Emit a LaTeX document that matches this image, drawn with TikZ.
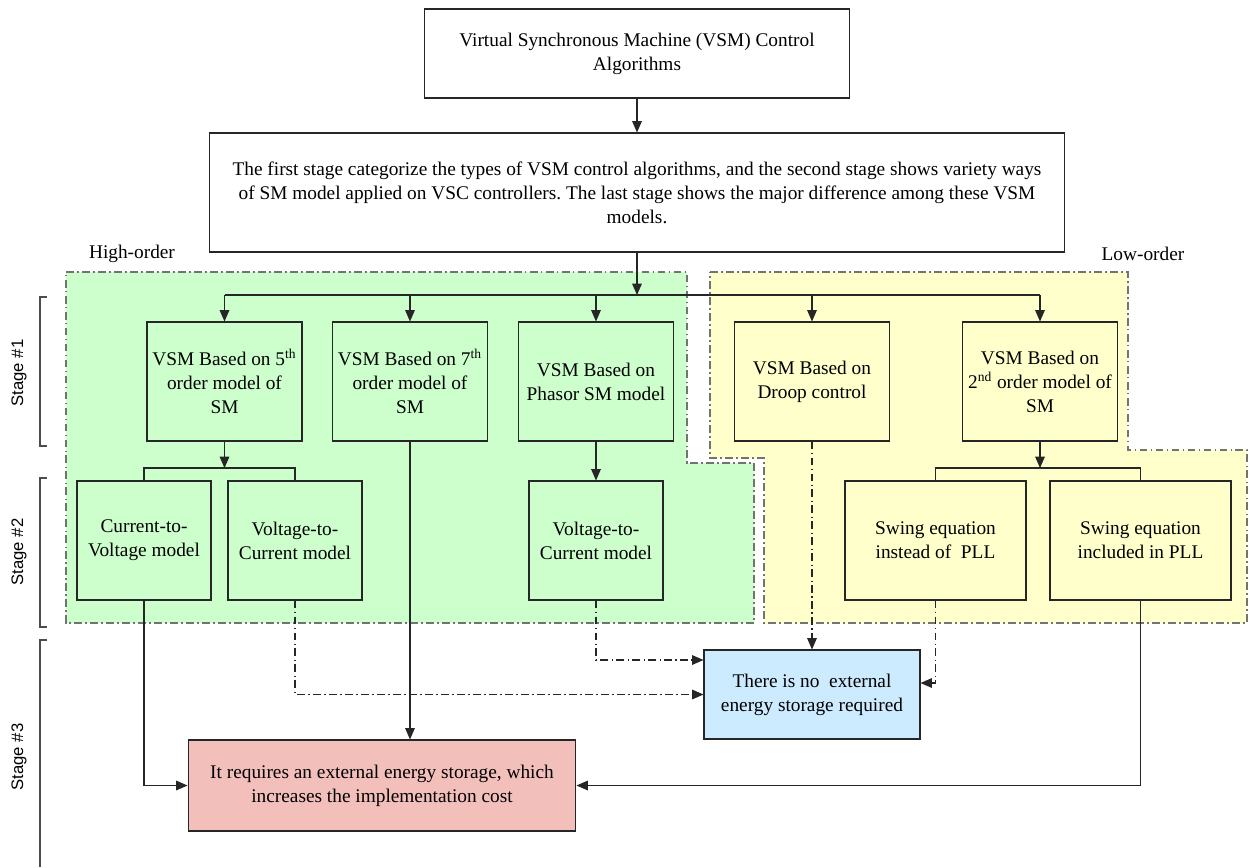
\documentclass[tikz,border=0pt]{standalone}
\usepackage{fontspec}
\setmainfont{Liberation Serif}
\newfontfamily\stagefont{Liberation Sans}
\usetikzlibrary{arrows.meta}
\frenchspacing
\definecolor{hogreen}{HTML}{CCFFCC}
\definecolor{loyellow}{HTML}{FFFFCC}
\definecolor{noblue}{HTML}{CCEBFF}
\definecolor{costred}{HTML}{F2BFBB}
\tikzset{
  blk/.style={draw=black!85, align=center, inner sep=0pt, line width=0.6pt,
    font=\fontsize{11}{13.6}\selectfont},
  sone/.style={blk, minimum width=3.1cm, minimum height=2.38cm},
  stwo/.style={blk, minimum width=2.68cm, minimum height=2.38cm},
  swide/.style={blk, minimum width=3.62cm, minimum height=2.38cm},
  arr/.style={-{Triangle[length=6.5pt,width=5.5pt]}, draw=black!85, line width=0.6pt},
  ln/.style={draw=black!85, line width=0.6pt},
  dd/.style={dash pattern=on 4.5pt off 1.8pt on 1pt off 1.8pt},
  region/.style={draw=black!55, line width=0.8pt, dd},
  stagelbl/.style={rotate=90, font=\stagefont\fontsize{9.5}{11}\selectfont}
}

\begin{document}
\begin{tikzpicture}[x=0.02cm,y=-0.02cm]
\useasboundingbox (0,0) rectangle (1249,867);

\fill[hogreen] (66,272) -- (687,272) -- (687,463) -- (754,463) -- (754,623) -- (66,623) -- cycle;
\fill[loyellow] (710,272) -- (1128,272) -- (1128,450) -- (1247,450) -- (1247,623) -- (764,623) -- (764,458) -- (710,458) -- cycle;
\draw[region] (66,272) -- (687,272) -- (687,463) -- (754,463) -- (754,623) -- (66,623) -- cycle;
\draw[region] (710,272) -- (1128,272) -- (1128,450) -- (1247,450) -- (1247,623) -- (764,623) -- (764,458) -- (710,458) -- cycle;
\node (high) [font=\fontsize{11}{13.6}\selectfont] at (132,254) {High-order};
\node (low) [font=\fontsize{11}{13.6}\selectfont] at (1143,254) {Low-order};

\draw[line width=0.8pt, black!70] (47,297) -- (40,297) -- (40,446) -- (47,446);
\draw[line width=0.8pt, black!70] (47,478) -- (40,478) -- (40,627) -- (47,627);
\draw[line width=0.8pt, black!70] (47,640) -- (40,640) -- (40,867);
\node (stage1) [stagelbl] at (19,373) {Stage \#1};
\node (stage2) [stagelbl] at (19,552) {Stage \#2};
\node (stage3) [stagelbl] at (19,757) {Stage \#3};

\node (top) [blk, fill=white, minimum width=8.52cm, minimum height=1.78cm] at (637,53.5)
  {Virtual Synchronous Machine (VSM) Control\\Algorithms};
\node (desc) [blk, fill=white, minimum width=17.12cm, minimum height=2.38cm] at (637,192.5)
  {The first stage categorize the types of VSM control algorithms, and the second stage shows variety ways\\
   of SM model applied on VSC controllers. The last stage shows the major difference among these VSM\\models.};

\node (fifth) [sone, fill=hogreen] at (224.5,381.5) {VSM Based on 5\textsuperscript{th}\\order model of\\SM};
\node (seventh) [sone, fill=hogreen] at (410,381.5) {VSM Based on 7\textsuperscript{th}\\order model of\\SM};
\node (phasor) [sone, fill=hogreen] at (596,381.5) {VSM Based on\\Phasor SM model};
\node (droop) [sone, fill=loyellow] at (812,381.5) {VSM Based on\\Droop control};
\node (second) [sone, fill=loyellow] at (1040,381.5) {VSM Based on\\2\textsuperscript{nd} order model of\\SM};

\node (cv) [stwo, fill=hogreen] at (144,540.5) {Current-to-\\Voltage model};
\node (vc) [stwo, fill=hogreen] at (295,540.5) {Voltage-to-\\Current model};
\node (pvc) [stwo, fill=hogreen] at (596,540.5) {Voltage-to-\\Current model};
\node (swinst) [swide, fill=loyellow] at (935.5,540.5) {Swing equation\\instead of\ \ PLL};
\node (swinc) [swide, fill=loyellow] at (1140.5,540.5) {Swing equation\\included in PLL};

\node (noes) [blk, fill=noblue, minimum width=4.32cm, minimum height=1.78cm] at (812,694.5)
  {There is no\ \ external\\energy storage required};
\node (needes) [blk, fill=costred, minimum width=7.76cm, minimum height=1.82cm] at (382,785.5)
  {It requires an external energy storage, which\\increases the implementation cost};

\coordinate (bus) at (637,295);
\coordinate (splitlo) at (224.5,468);
\coordinate (splithi) at (1040,468);

\draw[arr] (top) -- (desc);
\draw[arr] (desc.south) -- (bus);
\draw[ln] (fifth.north |- bus) -- (second.north |- bus);
\draw[arr] (fifth.north |- bus) -- (fifth.north);
\draw[arr] (seventh.north |- bus) -- (seventh.north);
\draw[arr] (phasor.north |- bus) -- (phasor.north);
\draw[arr] (droop.north |- bus) -- (droop.north);
\draw[arr] (second.north |- bus) -- (second.north);

\draw[arr] (fifth.south) -- (splitlo);
\draw[ln] (cv.north) |- (splitlo) -| (vc.north);
\draw[arr] (second.south) -- (splithi);
\draw[ln] (swinst.north) |- (splithi) -| (swinc.north);
\draw[arr] (phasor) -- (pvc);

\draw[arr] (cv.south) |- (needes.west);
\draw[arr] (seventh.south) -- (seventh.south |- needes.north);
\draw[arr] (swinc.south) |- (needes.east);

\draw[arr, dd] (vc.south) |- (noes.west);
\draw[arr, dd] (pvc.south) |- (noes.west |- 0,660);
\draw[arr, dd] (droop.south) -- (noes.north);
\draw[arr, dd] (swinst.south) |- (noes.east |- 0,683);
\end{tikzpicture}
\end{document}
